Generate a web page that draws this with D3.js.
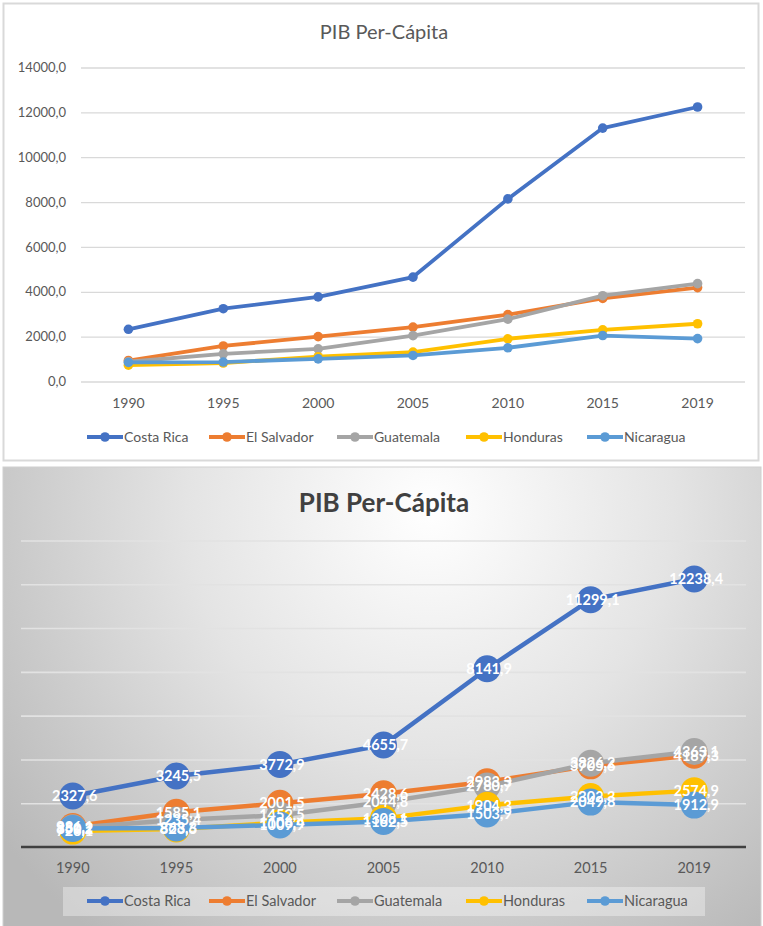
<!DOCTYPE html>
<html>
<head>
<meta charset="utf-8">
<script src="https://cdn.jsdelivr.net/npm/d3@7"></script>
<style>
  html, body { margin: 0; padding: 0; background: #fff; }
  svg { display: block; font-family: Lato, "Noto Sans", sans-serif; }
</style>
</head>
<body>
<svg id="chart" width="763" height="926"></svg>
<script>
// data (PIB per cápita, US$)
var years = ['1990', '1995', '2000', '2005', '2010', '2015', '2019'];
var countries = ['Costa Rica', 'El Salvador', 'Guatemala', 'Honduras', 'Nicaragua'];
var costaRica = [2327.6, 3245.5, 3772.9, 4655.7, 8141.9, 11299.1, 12238.4];
var elSalvador = [936.1, 1585.1, 2001.5, 2428.6, 2983.3, 3705.6, 4187.3];
var guatemala = [881.2, 1235.4, 1452.5, 2044.8, 2780.7, 3826.2, 4363.1];
var honduras = [726.1, 823.6, 1106.4, 1308.1, 1904.3, 2302.3, 2574.9];
var nicaragua = [850.2, 868.3, 1009.9, 1162.5, 1503.9, 2049.8, 1912.9];
var yTicks = [0, 2000, 4000, 6000, 8000, 10000, 12000, 14000];
var colors = ['#4472C4', '#ED7D31', '#A5A5A5', '#FFC000', '#5B9BD5'];

var seriesValues = [costaRica, elSalvador, guatemala, honduras, nicaragua];
var series = countries.map(function(name, i) {
    return {name: name, color: colors[i], values: seriesValues[i].map(function(v, j) {
        return {year: years[j], value: v};
    })};
});

var fmt = function(v) { return d3.format('.1f')(v).replace('.', ','); };
var svg = d3.select('#chart');
var defs = svg.append('defs');

// ---- top chart: plain white Excel style ----
function drawTop() {
    var g = svg.append('g');
    g.append('rect')
        .attr('x', 3.5).attr('y', 3.5).attr('width', 755).attr('height', 457)
        .attr('fill', '#fff').attr('stroke', '#d9d9d9').attr('stroke-width', 2);

    var x = d3.scalePoint().domain(years).range([81, 745]).padding(0.5);
    var y = d3.scaleLinear().domain([0, 14000]).range([381.5, 67.5]);

    g.append('text')
        .attr('x', 384).attr('y', 39).attr('text-anchor', 'middle')
        .attr('font-size', 20).attr('fill', '#595959')
        .text('PIB Per-Cápita');

    var yAxis = g.append('g').attr('transform', 'translate(81,0)')
        .call(d3.axisLeft(y).tickValues(yTicks).tickSize(-664).tickFormat(fmt));
    yAxis.select('.domain').remove();
    yAxis.selectAll('line').attr('stroke', '#d9d9d9').attr('stroke-width', 1.3);
    yAxis.selectAll('text').attr('x', -15).attr('fill', '#595959')
        .attr('font-size', 13).style('font-family', 'Lato');

    g.selectAll('text.year').data(years).enter().append('text')
        .attr('class', 'year')
        .attr('x', function(d) { return x(d); }).attr('y', 408)
        .attr('text-anchor', 'middle').attr('font-size', 14).attr('fill', '#595959')
        .text(function(d) { return d; });

    var line = d3.line()
        .x(function(d) { return x(d.year); })
        .y(function(d) { return y(d.value); });

    var sg = g.selectAll('g.series').data(series).enter().append('g').attr('class', 'series');
    sg.append('path')
        .attr('d', function(d) { return line(d.values); })
        .attr('fill', 'none').attr('stroke', function(d) { return d.color; })
        .attr('stroke-width', 3.8).attr('stroke-linejoin', 'round');
    sg.selectAll('circle').data(function(d) { return d.values.map(function(v) { return {v: v, c: d.color}; }); })
      .enter().append('circle')
        .attr('cx', function(d) { return x(d.v.year); })
        .attr('cy', function(d) { return y(d.v.value); })
        .attr('r', 4.8).attr('fill', function(d) { return d.c; });

    drawLegend(g, 437, 14, 3.8);
}

function drawLegend(g, cy, fontSize, lw) {
    var starts = [87, 209, 337, 466, 587];
    var lg = g.selectAll('g.legend').data(series).enter().append('g')
        .attr('class', 'legend')
        .attr('transform', function(d, i) { return 'translate(' + starts[i] + ',' + cy + ')'; });
    lg.append('line').attr('x1', 0).attr('x2', 36).attr('y1', 0).attr('y2', 0)
        .attr('stroke', function(d) { return d.color; }).attr('stroke-width', lw);
    lg.append('circle').attr('cx', 18).attr('cy', 0).attr('r', 4.8)
        .attr('fill', function(d) { return d.color; });
    lg.append('text').attr('x', 37).attr('y', 0).attr('dy', '0.35em')
        .attr('font-size', fontSize).attr('fill', '#595959')
        .text(function(d) { return d.name; });
}

// ---- bottom chart: gradient style with data labels ----
function drawBottom() {
    var bg = defs.append('radialGradient').attr('id', 'bgGrad')
        .attr('gradientUnits', 'userSpaceOnUse')
        .attr('cx', 430).attr('cy', 510).attr('r', 540);
    bg.append('stop').attr('offset', '0%').attr('stop-color', '#ffffff');
    bg.append('stop').attr('offset', '45%').attr('stop-color', '#e4e4e4');
    bg.append('stop').attr('offset', '100%').attr('stop-color', '#b8b8b8');

    var gridGrad = defs.append('linearGradient').attr('id', 'gridGrad')
        .attr('gradientUnits', 'userSpaceOnUse')
        .attr('x1', 0).attr('x2', 0).attr('y1', 541).attr('y2', 803);
    gridGrad.append('stop').attr('offset', '0%').attr('stop-color', '#e2e2e2');
    gridGrad.append('stop').attr('offset', '100%').attr('stop-color', '#8a8a8a');

    var g = svg.append('g');
    g.append('rect')
        .attr('x', 3).attr('y', 467).attr('width', 758).attr('height', 462)
        .attr('fill', 'url(#bgGrad)').attr('stroke', '#d0d0d0').attr('stroke-width', 1);

    var x = d3.scalePoint().domain(years).range([21, 746]).padding(0.5);
    var y = d3.scaleLinear().domain([0, 14000]).range([847, 540.5]);

    g.append('text')
        .attr('x', 384).attr('y', 512).attr('text-anchor', 'middle')
        .attr('font-size', 26).attr('font-weight', 'bold').attr('fill', '#404040')
        .text('PIB Per-Cápita');

    var grid = g.append('g').attr('transform', 'translate(21,0)')
        .call(d3.axisLeft(y).tickValues(yTicks.slice(1)).tickSize(-725).tickFormat(''));
    grid.select('.domain').remove();
    grid.selectAll('line').attr('stroke', 'url(#gridGrad)').attr('stroke-width', 1.6);

    g.append('line').attr('x1', 21).attr('x2', 746).attr('y1', y(0)).attr('y2', y(0))
        .attr('stroke', '#404040').attr('stroke-width', 2.5);

    g.selectAll('text.year').data(years).enter().append('text')
        .attr('class', 'year')
        .attr('x', function(d) { return x(d); }).attr('y', 873)
        .attr('text-anchor', 'middle').attr('font-size', 14.5).attr('fill', '#595959')
        .text(function(d) { return d; });

    var line = d3.line()
        .x(function(d) { return x(d.year); })
        .y(function(d) { return y(d.value); });

    var sg = g.selectAll('g.series').data(series).enter().append('g').attr('class', 'series');
    sg.append('path')
        .attr('d', function(d) { return line(d.values); })
        .attr('fill', 'none').attr('stroke', function(d) { return d.color; })
        .attr('stroke-width', 4.5).attr('stroke-linejoin', 'round');
    sg.selectAll('circle').data(function(d) { return d.values.map(function(v) { return {v: v, c: d.color}; }); })
      .enter().append('circle')
        .attr('cx', function(d) { return x(d.v.year); })
        .attr('cy', function(d) { return y(d.v.value); })
        .attr('r', 13.5).attr('fill', function(d) { return d.c; });

    // labels go on top of every series
    var labels = g.append('g');
    series.forEach(function(s) {
        labels.selectAll(null).data(s.values).enter().append('text')
            .attr('x', function(d) { return x(d.year) + 2; })
            .attr('y', function(d) { return y(d.value); })
            .attr('dy', '0.36em').attr('text-anchor', 'middle')
            .attr('font-size', 14.5).attr('font-weight', 'bold').attr('fill', '#fff')
            .text(function(d) { return fmt(d.value); });
    });

    g.append('rect').attr('x', 63).attr('y', 887).attr('width', 642).attr('height', 29)
        .attr('fill', '#ffffff').attr('fill-opacity', 0.35);
    drawLegend(g, 901, 14.5, 4);
}

drawTop();
drawBottom();
</script>
</body>
</html>
